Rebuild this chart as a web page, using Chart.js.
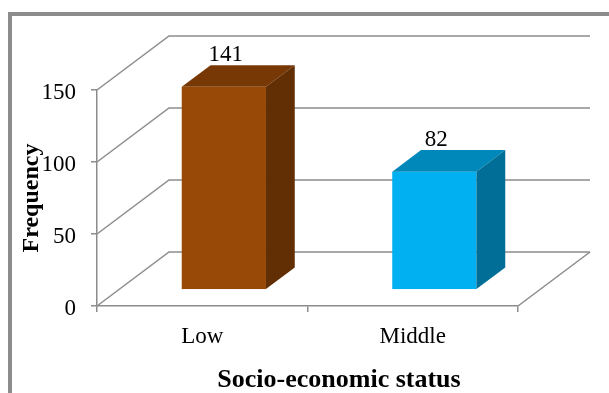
<!DOCTYPE html>
<html>
<head>
<meta charset="utf-8">
<script src="https://cdn.jsdelivr.net/npm/chart.js@4/dist/chart.umd.min.js"></script>
<style>
    html, body { margin: 0; padding: 0; background: #ffffff; }
    #wrap { width: 609px; height: 393px; position: relative; }
</style>
</head>
<body>
<div id="wrap"><canvas id="statusChart"></canvas></div>
<script>
// Chart data
const categories = ['Low', 'Middle'];
const frequencies = [141, 82];
const yTicks = [0, 50, 100, 150];
const xTitle = 'Socio-economic status';
const yTitle = 'Frequency';

// Colours of the 3D boxes (front, top, side)
const frontColors = ['#984807', '#00b0f0'];
const topColors = ['#773806', '#0088bb'];
const sideColors = ['#622e04', '#006e97'];
const lineColor = '#8c8c8c';
const serif = '"Liberation Serif", "Times New Roman", serif';

// Depth of the 3D floor / walls
const DEPTH_X = 72;
const DEPTH_Y = -54;
const BAR_FRONT = 0.3;
const BAR_BACK = 0.7;

// Outer frame and x axis title
const framePlugin = {
    id: 'frame',
    beforeDraw(chart) {
        const ctx = chart.ctx;
        ctx.save();
        ctx.fillStyle = '#ffffff';
        ctx.fillRect(0, 0, chart.width, chart.height);
        ctx.strokeStyle = lineColor;
        ctx.lineWidth = 4;
        ctx.strokeRect(10, 14, 800, 600);
        ctx.restore();
    },
    afterDraw(chart) {
        const ctx = chart.ctx;
        ctx.save();
        ctx.fillStyle = '#000000';
        ctx.font = 'bold 26px ' + serif;
        ctx.textAlign = 'center';
        ctx.textBaseline = 'middle';
        ctx.fillText(xTitle, 339, 380);
        ctx.restore();
    }
};

// Back wall, side wall and floor lines
const wallPlugin = {
    id: 'walls',
    beforeDatasetsDraw(chart) {
        const ctx = chart.ctx;
        const area = chart.chartArea;
        const yScale = chart.scales.y;
        ctx.save();
        ctx.strokeStyle = lineColor;
        ctx.lineWidth = 1.5;
        yTicks.forEach(v => {
            const y = yScale.getPixelForValue(v);
            ctx.beginPath();
            ctx.moveTo(area.left, y);
            ctx.lineTo(area.left + DEPTH_X, y + DEPTH_Y);
            ctx.lineTo(area.right + DEPTH_X, y + DEPTH_Y);
            ctx.stroke();
        });
        // floor right edge
        ctx.beginPath();
        ctx.moveTo(area.right, area.bottom);
        ctx.lineTo(area.right + DEPTH_X, area.bottom + DEPTH_Y);
        ctx.stroke();
        ctx.restore();
    }
};

// 3D columns built from the bar elements
const boxPlugin = {
    id: 'boxes',
    afterDatasetsDraw(chart) {
        const ctx = chart.ctx;
        const meta = chart.getDatasetMeta(0);
        const fx0 = DEPTH_X * BAR_FRONT, fy0 = DEPTH_Y * BAR_FRONT;
        const fx1 = DEPTH_X * BAR_BACK, fy1 = DEPTH_Y * BAR_BACK;
        ctx.save();
        meta.data.forEach((bar, i) => {
            const x0 = bar.x - bar.width / 2;
            const x1 = bar.x + bar.width / 2;
            const top = bar.y;
            const base = bar.base;

            // front face
            ctx.fillStyle = frontColors[i];
            ctx.fillRect(x0 + fx0, top + fy0, x1 - x0, base - top);

            // top face
            ctx.fillStyle = topColors[i];
            ctx.beginPath();
            ctx.moveTo(x0 + fx0, top + fy0);
            ctx.lineTo(x0 + fx1, top + fy1);
            ctx.lineTo(x1 + fx1, top + fy1);
            ctx.lineTo(x1 + fx0, top + fy0);
            ctx.closePath();
            ctx.fill();

            // side face
            ctx.fillStyle = sideColors[i];
            ctx.beginPath();
            ctx.moveTo(x1 + fx0, top + fy0);
            ctx.lineTo(x1 + fx1, top + fy1);
            ctx.lineTo(x1 + fx1, base + fy1);
            ctx.lineTo(x1 + fx0, base + fy0);
            ctx.closePath();
            ctx.fill();

            // value label
            ctx.fillStyle = '#000000';
            ctx.font = '23px ' + serif;
            ctx.textAlign = 'center';
            ctx.textBaseline = 'middle';
            ctx.fillText(String(frequencies[i]), bar.x + fx0 + 2, top + fy1 - 10);
        });
        ctx.restore();
    }
};

const ctx = document.getElementById('statusChart').getContext('2d');
const statusChart = new Chart(ctx, {
    type: 'bar',
    data: {
        labels: categories,
        datasets: [{
            label: yTitle,
            data: frequencies,
            backgroundColor: 'rgba(0,0,0,0)',
            borderWidth: 0,
            barPercentage: 0.4,
            categoryPercentage: 1
        }]
    },
    options: {
        responsive: true,
        maintainAspectRatio: false,
        animation: false,
        layout: {
            padding: { left: 0, top: 90, right: 91, bottom: 0 }
        },
        plugins: {
            legend: { display: false },
            tooltip: { enabled: false }
        },
        scales: {
            x: {
                grid: {
                    offset: true,
                    drawOnChartArea: false,
                    drawTicks: true,
                    tickLength: 6,
                    color: lineColor,
                    lineWidth: 1.5
                },
                border: { display: true, color: lineColor, width: 1.5 },
                ticks: {
                    color: '#000000',
                    padding: 11,
                    font: { family: serif, size: 23 }
                },
                afterFit(scale) {
                    scale.height = 87;
                }
            },
            y: {
                min: 0,
                max: 150,
                afterBuildTicks(scale) {
                    scale.ticks = yTicks.map(v => ({ value: v }));
                },
                grid: {
                    drawOnChartArea: false,
                    drawTicks: true,
                    tickLength: 6,
                    color: lineColor,
                    lineWidth: 1.5
                },
                border: { display: true, color: lineColor, width: 1.5 },
                ticks: {
                    color: '#000000',
                    padding: 15,
                    labelOffset: 3,
                    font: { family: serif, size: 23 }
                },
                title: {
                    display: true,
                    text: yTitle,
                    color: '#000000',
                    padding: { top: 17, bottom: 0 },
                    font: { family: serif, size: 24, weight: 'bold' }
                },
                afterFit(scale) {
                    scale.width = 97;
                }
            }
        }
    },
    plugins: [framePlugin, wallPlugin, boxPlugin]
});
</script>
</body>
</html>
